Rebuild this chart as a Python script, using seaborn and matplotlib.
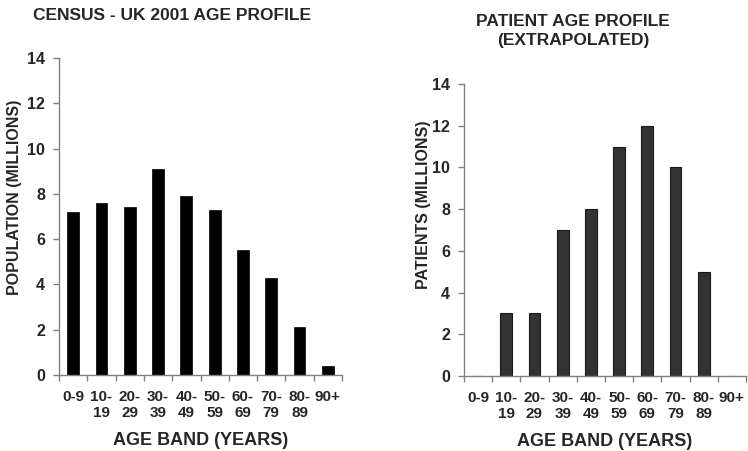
import matplotlib
matplotlib.use("Agg")
import matplotlib.pyplot as plt
import seaborn as sns
import pandas as pd
import numpy as np

age_bands = ["0-9", "10-\n19", "20-\n29", "30-\n39", "40-\n49", "50-\n59",
             "60-\n69", "70-\n79", "80-\n89", "90+"]
census_millions = [7.2, 7.6, 7.4, 9.1, 7.9, 7.3, 5.5, 4.3, 2.1, 0.4]
patients_millions = [0, 3, 3, 7, 8, 11, 12, 10, 5, 0]
y_ticks = [0, 2, 4, 6, 8, 10, 12, 14]

sns.set_theme(style="white")
plt.rcParams['font.family'] = ['Liberation Sans', 'DejaVu Sans']
plt.rcParams['font.weight'] = 'bold'

fig = plt.figure(figsize=(7.48, 4.51), dpi=100)
ax1 = fig.add_axes([59/748, 1-375/451, 283/748, 317/451])
ax2 = fig.add_axes([464/748, 1-376/451, 282/748, 292/451])

df1 = pd.DataFrame({"band": age_bands, "value": census_millions})
df2 = pd.DataFrame({"band": age_bands, "value": patients_millions})

sns.barplot(data=df1, x="band", y="value", ax=ax1, color="#000000",
            width=0.42, saturation=1, edgecolor="#000000", linewidth=0.5)
sns.barplot(data=df2, x="band", y="value", ax=ax2, color="#333333",
            width=0.42, saturation=1, edgecolor="#1a1a1a", linewidth=0.8)

n = len(age_bands)
for ax in (ax1, ax2):
    ax.set_xlim(-0.5, n - 0.5)
    ax.set_ylim(0, 14)
    ax.set_yticks(y_ticks)
    ax.set_yticklabels([str(t) for t in y_ticks], fontsize=11.5, fontweight='bold')
    ax.set_xticks(np.arange(-0.5, n, 1.0))
    ax.set_xticklabels([])
    ax.set_xticks(np.arange(n), minor=True)
    ax.set_xticklabels(age_bands, minor=True, fontsize=11, fontweight='bold',
                       multialignment='center', linespacing=1.15)
    ax.tick_params(axis='x', which='major', direction='out', length=4,
                   color='#808080', width=1, bottom=True)
    ax.tick_params(axis='x', which='minor', length=0, pad=11, bottom=True)
    ax.tick_params(axis='y', direction='out', length=4, color='#808080',
                   width=1, pad=6, left=True)
    for s in ['top', 'right']:
        ax.spines[s].set_visible(False)
    for s in ['left', 'bottom']:
        ax.spines[s].set_color('#808080')
        ax.spines[s].set_linewidth(1)
    ax.set_xlabel("AGE BAND (YEARS)", fontsize=13, fontweight='bold', labelpad=9)
    ax.set_ylabel("")

fig.text(15/748, 1-197/451, "POPULATION (MILLIONS)", rotation=90, ha='center',
         va='center', fontsize=11.5, fontweight='bold')
fig.text(423/748, 1-205/451, "PATIENTS (MILLIONS)", rotation=90, ha='center',
         va='center', fontsize=11.5, fontweight='bold')

fig.text(172/748, 1-15/451, "CENSUS - UK 2001 AGE PROFILE", ha='center',
         va='center', fontsize=12.5, fontweight='bold')
fig.text(573/748, 1-31/451, "PATIENT AGE PROFILE\n(EXTRAPOLATED)", ha='center',
         va='center', fontsize=12.5, fontweight='bold', linespacing=1.25)

fig.savefig("out.png", dpi=100)
